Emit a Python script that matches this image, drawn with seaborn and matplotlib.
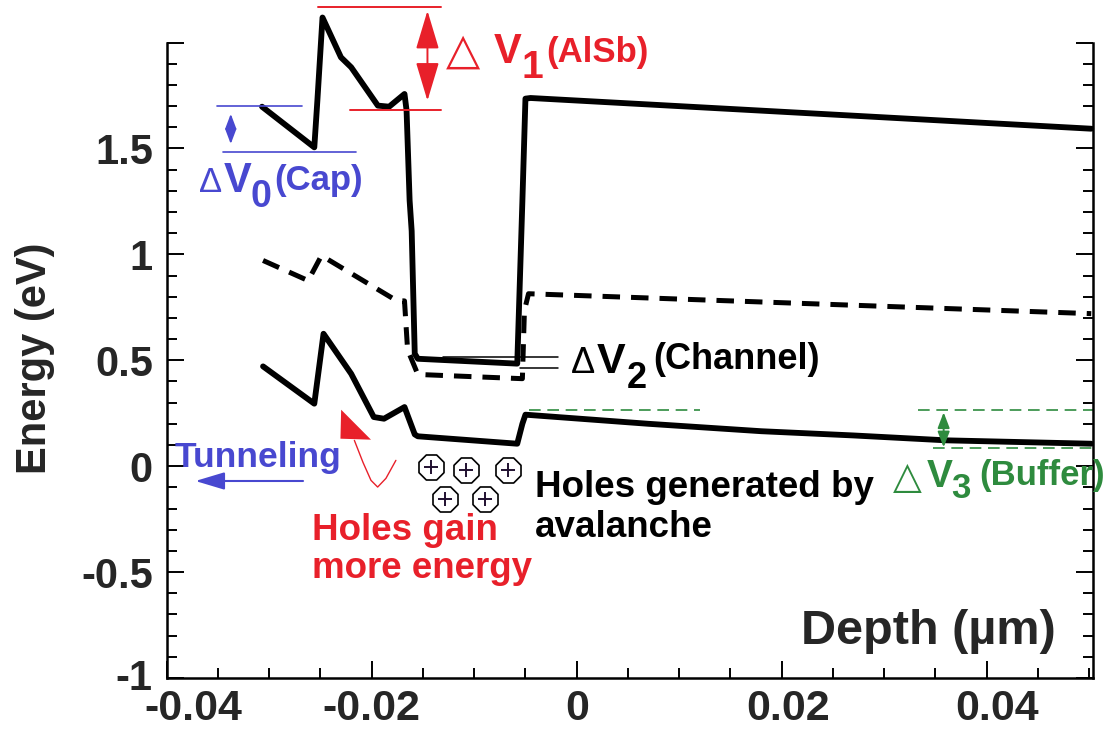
import matplotlib
matplotlib.use("Agg")
import matplotlib.pyplot as plt
from matplotlib.ticker import MultipleLocator
from matplotlib.transforms import ScaledTranslation
import numpy as np
import pandas as pd
import seaborn as sns

# ---------------- data ----------------
# conduction band (solid, upper)
cb_x = [-0.0307, -0.0256, -0.0253, -0.0248, -0.0230, -0.0220, -0.0194, -0.0183, -0.0168,
        -0.0166, -0.0163, -0.0161, -0.0158, -0.0155, -0.0058, -0.0053, -0.0050, -0.0045, 0.0502]
cb_y = [1.697, 1.505, 1.726, 2.118, 1.930, 1.883, 1.702, 1.697, 1.757,
        1.680, 1.254, 1.110, 0.531, 0.507, 0.484, 1.250, 1.735, 1.738, 1.593]
# dashed level
ef_x = [-0.0306, -0.0262, -0.0249, -0.0176, -0.0168, -0.0165, -0.0155, -0.0053, -0.0051, -0.0047, 0.0502]
ef_y = [0.971, 0.876, 0.994, 0.782, 0.780, 0.550, 0.433, 0.413, 0.735, 0.814, 0.720]
# valence band (solid, lower)
vb_x = [-0.0306, -0.0256, -0.0247, -0.0220, -0.0198, -0.0188, -0.0168, -0.0158, -0.0155,
        -0.0058, -0.0053, -0.0050, 0.0070, 0.0180, 0.0270, 0.0360, 0.0502]
vb_y = [0.471, 0.295, 0.625, 0.436, 0.232, 0.224, 0.279, 0.150, 0.141,
        0.106, 0.200, 0.243, 0.200, 0.165, 0.145, 0.122, 0.106]

# generated holes
hole_x = [-0.01424, -0.01078, -0.00674, -0.01288, -0.00897]
hole_y = [-0.004, -0.0165, -0.0165, -0.157, -0.157]

x_ticks = [-0.04, -0.02, 0, 0.02, 0.04]
x_tick_labels = ["-0.04", "-0.02", "0", "0.02", "0.04"]
y_ticks = [-1, -0.5, 0, 0.5, 1, 1.5, 2]
y_tick_labels = ["-1", "-0.5", "0", "0.5", "1", "1.5", ""]

# annotation levels
v0_levels = [1.702, 1.482]
v1_levels = [2.166, 1.683]
v2_levels = [0.515, 0.465]
v3_levels = [0.264, 0.085]

BLUE = "#4848D0"
RED = "#E8202A"
GREEN = "#2E8B3E"

# ---------------- style ----------------
sns.set_theme(style="ticks")
plt.rcParams['font.family'] = ['Liberation Sans', 'DejaVu Sans']
plt.rcParams['axes.unicode_minus'] = False

W, H = 1120, 738
fig = plt.figure(figsize=(W / 100, H / 100), dpi=100)
fig.patch.set_facecolor("white")
L, R, T, B = 166.7, 1093.3, 42.5, 678.0
ax = fig.add_axes([L / W, 1 - B / H, (R - L) / W, (B - T) / H])
ax.set_facecolor("white")

df_cb = pd.DataFrame({"Depth": cb_x, "Energy": cb_y})
df_ef = pd.DataFrame({"Depth": ef_x, "Energy": ef_y})
df_vb = pd.DataFrame({"Depth": vb_x, "Energy": vb_y})

sns.lineplot(data=df_cb, x="Depth", y="Energy", sort=False, estimator=None,
             color="black", linewidth=4.2, ax=ax)
ax.lines[-1].set_clip_on(False)
sns.lineplot(data=df_ef, x="Depth", y="Energy", sort=False, estimator=None,
             color="black", linewidth=3.6, ax=ax)
ax.lines[-1].set_dashes((3.5, 2.2))
sns.lineplot(data=df_vb, x="Depth", y="Energy", sort=False, estimator=None,
             color="black", linewidth=4.2, ax=ax)

ax.set_xlim(-0.04, 0.0504)
ax.set_ylim(-1, 2)

# ---------------- axes styling ----------------
ax.spines['top'].set_visible(False)
for s in ['left', 'right', 'bottom']:
    ax.spines[s].set_linewidth(1.8)
    ax.spines[s].set_color("black")
ax.set_xticks(x_ticks)
ax.set_xticklabels(x_tick_labels, fontsize=31, fontweight='bold')
ax.set_yticks(y_ticks)
ax.set_yticklabels(y_tick_labels, fontsize=30, fontweight='bold')
ax.xaxis.set_minor_locator(MultipleLocator(0.005))
ax.yaxis.set_minor_locator(MultipleLocator(0.1))
ax.tick_params(which='both', direction='in', width=1.4, color='black')
ax.tick_params(which='major', length=12)
ax.tick_params(which='minor', length=7)
ax.tick_params(axis='y', which='both', left=True, right=True, labelright=False, pad=10)
ax.tick_params(axis='x', which='both', bottom=True, top=False, pad=8)

# small horizontal offsets of x tick labels as in the reference
label_shift_px = {"-0.04": 27, "0.02": 6, "0.04": 10}
for tick in ax.xaxis.get_major_ticks():
    txt = tick.label1.get_text()
    if txt in label_shift_px:
        tick.label1.set_transform(tick.label1.get_transform() +
                                  ScaledTranslation(label_shift_px[txt] / 100, 0, fig.dpi_scale_trans))
# nudge the "-1" label up slightly so it clears the x labels
for tick in ax.yaxis.get_major_ticks():
    if tick.label1.get_text() == "-1":
        tick.label1.set_transform(tick.label1.get_transform() +
                                  ScaledTranslation(0, 4 / 100, fig.dpi_scale_trans))

ax.set_xlabel("Depth (µm)", fontsize=35, fontweight='bold', va='baseline', ha='center')
ax.xaxis.set_label_coords((928 - L) / (R - L), (B - 644) / (B - T))
ax.set_ylabel("Energy (eV)", fontsize=30, fontweight='bold', va='center', ha='center')
ax.yaxis.set_label_coords((35 - L) / (R - L), (B - 358) / (B - T))

# ---------------- annotations ----------------
def arrow(x0, y0, x1, y1, color, style, lw):
    ax.annotate("", xy=(x1, y1), xytext=(x0, y0), annotation_clip=False,
                arrowprops=dict(arrowstyle=style, color=color, lw=lw,
                                shrinkA=0, shrinkB=0, mutation_scale=20))

# ΔV0 (Cap)
ax.plot([-0.0351, -0.0268], [v0_levels[0]] * 2, color=BLUE, lw=1.2)
ax.plot([-0.0345, -0.0215], [v0_levels[1]] * 2, color=BLUE, lw=1.2)
arrow(-0.03375, 1.521, -0.03375, 1.663, BLUE, "<|-|>,head_length=0.45,head_width=0.17", 1.3)

# ΔV1 (AlSb)
ax.plot([-0.0252, -0.0132], [v1_levels[0]] * 2, color=RED, lw=1.4, clip_on=False)
ax.plot([-0.0221, -0.0132], [v1_levels[1]] * 2, color=RED, lw=1.4)
arrow(-0.01456, 1.725, -0.01456, 2.15, RED, "<|-|>,head_length=1.2,head_width=0.36", 1.4)

# ΔV2 (Channel)
ax.plot([-0.0130, -0.0018], [v2_levels[0]] * 2, color="black", lw=1.1)
ax.plot([-0.0055, -0.0018], [v2_levels[1]] * 2, color="black", lw=1.1)

# ΔV3 (Buffer)
ax.plot([-0.0047, 0.0120], [v3_levels[0]] * 2, color=GREEN, lw=1.2, dashes=(7, 4))
ax.plot([0.0333, 0.0504], [v3_levels[0]] * 2, color=GREEN, lw=1.2, dashes=(7, 4), clip_on=False)
ax.plot([0.0348, 0.0504], [v3_levels[1]] * 2, color=GREEN, lw=1.2, dashes=(7, 4), clip_on=False)
arrow(0.0358, 0.089, 0.0358, 0.254, GREEN, "<|-|>,head_length=0.47,head_width=0.18", 1.4)

# Tunneling arrow
arrow(-0.0267, -0.070, -0.0372, -0.070, BLUE, "-|>,head_length=0.9,head_width=0.27", 1.5)

# red "holes gain energy" path + arrow head
red_path_x = [-0.02169, -0.02085, -0.02007, -0.01942, -0.01861, -0.01764]
red_path_y = [0.1217, 0.0179, -0.067, -0.0986, -0.0575, 0.0274]
ax.plot(red_path_x, red_path_y, color=RED, lw=1.0)
ax.fill([-0.02298, -0.02305, -0.02007], [0.2665, 0.1297, 0.125], color=RED, lw=0)

# holes
ax.scatter(hole_x, hole_y, marker='8', s=380, facecolor='white', edgecolor='black',
           linewidths=1.2, zorder=5)
ax.scatter(hole_x, hole_y, marker='+', s=90, color='#201030', linewidths=1.4, zorder=6)

# ---------------- texts (pixel-placed) ----------------
def ptxt(xp, yp, s, size, color, weight='bold', family=None, **kw):
    kws = dict(fontsize=size, color=color, fontweight=weight, ha='left', va='baseline')
    if family is not None:
        kws['family'] = family
    kws.update(kw)
    fig.text(xp / W, 1 - yp / H, s, **kws)

TRI = ['DejaVu Sans']
# ΔV1 (AlSb)
ptxt(446, 64, "△", 32, RED, weight='normal', family=TRI)
ptxt(494, 63, "V", 30, RED)
ptxt(521, 78, "1", 28, RED)
ptxt(546, 62, "(AlSb)", 25, RED)
# ΔV0 (Cap)
ptxt(199, 192, "Δ", 25, BLUE, weight='normal')
ptxt(224, 192, "V", 30, BLUE)
ptxt(251, 207, "0", 27, BLUE)
ptxt(274, 190, "(Cap)", 25, BLUE)
# ΔV2 (Channel)
ptxt(571, 373, "Δ", 26, "black", weight='normal')
ptxt(597, 373, "V", 31, "black")
ptxt(627, 388, "2", 26, "black")
ptxt(653, 369, "(Channel)", 26, "black")
# ΔV3 (Buffer)
ptxt(893, 488, "△", 27, GREEN, weight='normal', family=TRI)
ptxt(927, 487, "V", 28, GREEN)
ptxt(951, 498, "3", 25, GREEN)
ptxt(979, 485, "(Buffer)", 25, GREEN)

ptxt(175, 467, "Tunneling", 25.5, BLUE)
ptxt(312, 540, "Holes gain", 26.5, RED)
ptxt(312, 578, "more energy", 26.5, RED)
ptxt(535, 497, "Holes generated by", 26.5, "black")
ptxt(535, 537, "avalanche", 26.5, "black")

fig.savefig("out.png", dpi=100, facecolor="white")
